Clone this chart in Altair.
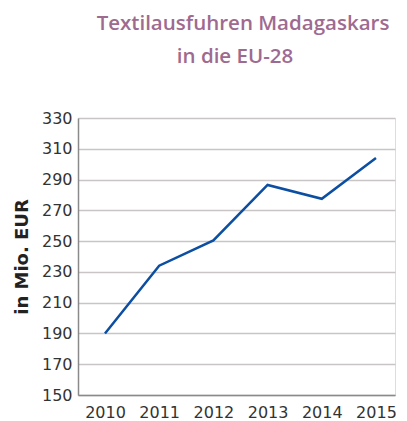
import altair as alt
import pandas as pd

years = [2010, 2011, 2012, 2013, 2014, 2015]
values = [190, 234, 250.5, 286.5, 277.5, 304]
y_ticks = [150, 170, 190, 210, 230, 250, 270, 290, 310, 330]
title_lines = ["Textilausfuhren Madagaskars", "in die EU-28"]
y_title = "in Mio. EUR"

df = pd.DataFrame({"Jahr": years, "Wert": values})

W, H = 317, 277

line = alt.Chart(df).mark_line(color="#0B4EA2", strokeWidth=2.5).encode(
    x=alt.X("Jahr:Q",
            scale=alt.Scale(domain=[2009.502, 2015.351], nice=False, zero=False),
            axis=alt.Axis(values=years, format="d", title=None, grid=False,
                          ticks=False, labelPadding=9, labelFontSize=16,
                          labelColor="#333333", labelFont="DejaVu Sans",
                          domainColor="#8a8a8a", domainWidth=1.5)),
    y=alt.Y("Wert:Q",
            scale=alt.Scale(domain=[150, 330], nice=False, zero=False),
            axis=alt.Axis(values=y_ticks, title=y_title, grid=True,
                          gridColor="#c9c5c5", gridWidth=1.5, ticks=False,
                          labelPadding=6, labelFontSize=16, labelColor="#333333",
                          labelFont="DejaVu Sans", titleFont="DejaVu Sans",
                          titleFontSize=18, titleFontWeight="bold",
                          titleColor="#222222", titlePadding=10,
                          domainColor="#8a8a8a", domainWidth=1.5)),
)

t1 = alt.Chart(pd.DataFrame({"t": [title_lines[0]]})).mark_text(
    font="Open Sans", fontSize=20.5, fontWeight=600, color="#9E6A90", align="center",
    baseline="alphabetic").encode(text="t:N", x=alt.value(165), y=alt.value(-88))
t2 = alt.Chart(pd.DataFrame({"t": [title_lines[1]]})).mark_text(
    font="Open Sans", fontSize=20.5, fontWeight=600, color="#9E6A90", align="center",
    baseline="alphabetic").encode(text="t:N", x=alt.value(157), y=alt.value(-55))

chart = alt.layer(line, t1, t2).properties(
    width=W, height=H,
    autosize=alt.AutoSizeParams(type="none"),
    padding={"left": 70, "top": 110, "right": 4, "bottom": 25},
).configure_view(stroke=None).configure(background="white")

chart.save("out.html", embed_options={"renderer": "svg", "actions": False})
